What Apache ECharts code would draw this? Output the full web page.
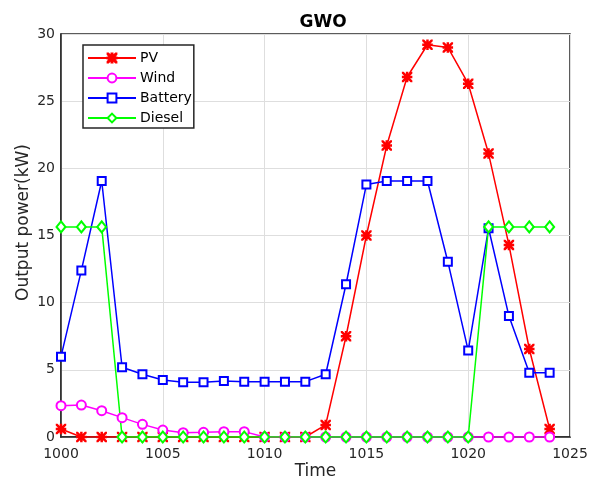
<!DOCTYPE html>
<html>
<head>
<meta charset="utf-8">
<script src="https://cdn.jsdelivr.net/npm/echarts@6/dist/echarts.min.js"></script>
<style>
  html, body { margin: 0; padding: 0; background: #fff; }
  #chart { width: 601px; height: 491px; }
</style>
</head>
<body>
<div id="chart"></div>
<script>
// Hourly output of each source over the dispatch horizon
const time = [1000, 1001, 1002, 1003, 1004, 1005, 1006, 1007, 1008, 1009, 1010, 1011, 1012,
              1013, 1014, 1015, 1016, 1017, 1018, 1019, 1020, 1021, 1022, 1023, 1024];
const pv = [0.6, 0, 0, 0, 0, 0, 0, 0, 0, 0, 0, 0, 0,
            0.9, 7.5, 15.0, 21.7, 26.8, 29.2, 29.0, 26.3, 21.1, 14.3, 6.55, 0.6];
const wind = [2.33, 2.38, 1.96, 1.44, 0.94, 0.52, 0.32, 0.35, 0.4, 0.4, 0, 0, 0,
              0, 0, 0, 0, 0, 0, 0, 0, 0, 0, 0, 0];
const battery = [5.98, 12.4, 19.06, 5.19, 4.67, 4.24, 4.07, 4.07, 4.17, 4.12, 4.12, 4.12, 4.12,
                 4.67, 11.37, 18.8, 19.06, 19.06, 19.06, 13.05, 6.43, 15.54, 9.0, 4.79, 4.79];
const diesel = [15.64, 15.64, 15.64, 0, 0, 0, 0, 0, 0, 0, 0, 0, 0,
                0, 0, 0, 0, 0, 0, 0, 0, 15.64, 15.64, 15.64, 15.64];
const seriesNames = ['PV', 'Wind', 'Battery', 'Diesel'];

// Asterisk marker built from four thin bars (all wound clockwise so overlaps stay filled)
const asterisk = 'path://M4.45,0 H5.55 V10 H4.45 Z M0,4.45 H10 V5.55 H0 Z ' +
  'M0,0 L0.8,0 L10,9.2 L10,10 L9.2,10 L0,0.8 Z ' +
  'M9.2,0 L10,0 L10,0.8 L0.8,10 L0,10 L0,9.2 Z';

const font = 'DejaVu Sans';
const ink = '#262626';

function pairs(vals) { return time.map((t, i) => [t, vals[i]]); }

function lineSeries(name, vals, color, symbol, size) {
  return {
    name: name,
    type: 'line',
    data: pairs(vals),
    symbol: symbol,
    symbolSize: size,
    showAllSymbol: true,
    lineStyle: { color: color, width: 1.5 },
    itemStyle: { color: color, borderColor: color, borderWidth: 1.5 },
    emphasis: { disabled: true },
    animation: false
  };
}

const chart = echarts.init(document.getElementById('chart'), null, { renderer: 'canvas' });
chart.setOption({
  backgroundColor: '#fff',
  animation: false,
  title: {
    text: 'GWO',
    left: 318, top: 9, textAlign: 'center',
    textStyle: { fontFamily: font, fontWeight: 'bold', fontSize: 17, color: '#000' }
  },
  legend: {
    data: seriesNames,
    orient: 'vertical',
    left: 83, top: 45,
    itemWidth: 48, itemHeight: 11, itemGap: 6,
    padding: [6, 2, 3, 4],
    borderColor: ink, borderWidth: 1.5,
    backgroundColor: '#fff',
    textStyle: { fontFamily: font, fontSize: 14, color: '#000', padding: [0, 0, 0, -1] }
  },
  grid: {
    left: 61, right: 31, top: 34, bottom: 54,
    show: true, borderColor: ink, borderWidth: 1.5, backgroundColor: '#fff'
  },
  xAxis: {
    type: 'value', min: 1000, max: 1025, interval: 5,
    name: 'Time', nameLocation: 'middle', nameGap: 26, nameMoveOverlap: false,
    nameTextStyle: { fontFamily: font, fontSize: 17, color: ink },
    axisLine: { show: true, lineStyle: { color: ink, width: 1.5 } },
    axisTick: { show: false },
    axisLabel: { fontFamily: font, fontSize: 14, color: ink, margin: 10,
                 formatter: v => String(v) },
    splitLine: { show: true, lineStyle: { color: '#dedede', width: 1 } }
  },
  yAxis: {
    type: 'value', min: 0, max: 30, interval: 5,
    name: 'Output power(kW)', nameLocation: 'middle', nameGap: 29, nameMoveOverlap: false,
    nameTextStyle: { fontFamily: font, fontSize: 17, color: ink, padding: [0, 0, 0, 26] },
    axisLine: { show: true, lineStyle: { color: ink, width: 1.5 } },
    axisTick: { show: false },
    axisLabel: { fontFamily: font, fontSize: 14, color: ink, margin: 6 },
    splitLine: { show: true, lineStyle: { color: '#dedede', width: 1 } }
  },
  series: [
    lineSeries('PV', pv, '#ff0000', asterisk, 9),
    lineSeries('Wind', wind, '#ff00ff', 'emptyCircle', 9),
    lineSeries('Battery', battery, '#0000ff', 'emptyRect', 8),
    lineSeries('Diesel', diesel, '#00ff00', 'emptyDiamond', [9, 11])
  ]
});
</script>
</body>
</html>
